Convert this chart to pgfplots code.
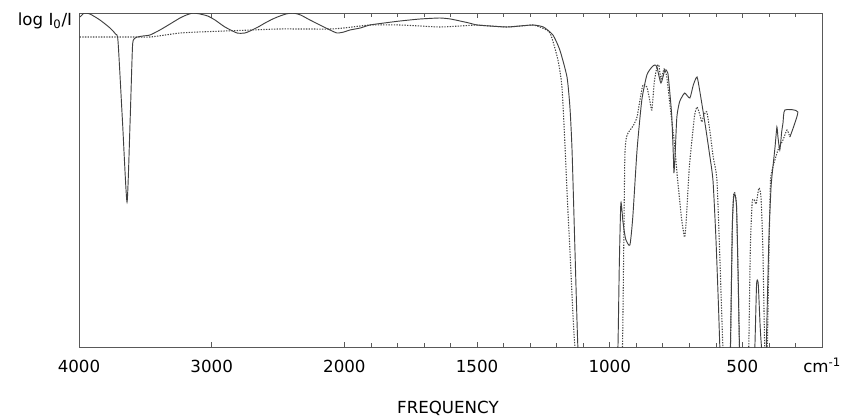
\documentclass[border=0pt]{standalone}
\usepackage{fontspec}
\setmainfont{DejaVu Sans}
\usepackage{pgfplots}
\pgfplotsset{compat=1.18}
\begin{document}
\begin{tikzpicture}
\useasboundingbox (-59.25pt,-51.5pt) rectangle (572.25pt,260.25pt);
\begin{axis}[
  scale only axis, width=557.25pt, height=250.5pt,
  at={(0,0)}, anchor=south west,
  x coord trafo/.code={\pgfmathparse{(#1>=2000)*(4000-#1)/2+(#1<2000)*(3000-#1)}},
  xmin=4000, xmax=200, ymin=0, ymax=334,
  xtick={4000,3000,2000,1500,1000,500},
  xticklabels={4000,3000,2000,1500,1000,500},
  minor xtick={1900,1800,1700,1600,1400,1300,1200,1100,900,800,700,600,400,300},
  ytick=\empty,
  axis line style={draw=black!65, line width=0.6pt},
  tick style={black!65, line width=0.5pt},
  major tick length=4pt, minor tick length=3pt,
  tick align=inside,
  xticklabel pos=lower,
  xticklabel style={font=\fontsize{12.5}{14}\selectfont, anchor=base, yshift=-18.75pt, inner sep=0pt},
  clip=true,
]
\addplot[black!75, line width=0.7pt, smooth, tension=0.35] coordinates {
(3992,330)(3960,334)(3917,333)(3842,327)(3766,319)(3725,313)(3706,306)
(3672,225)(3638,145)(3615,225)(3597,300)(3585,308)(3560,310)(3518,311)(3465,312)(3390,317)(3314,323)(3239,329)
(3190,332)(3141,334)(3088,333)(3030,331)(2975,327)(2900,320)(2809,314)(2750,314)(2711,316)(2650,320)(2598,324)
(2540,328)(2485,331)(2440,333)(2387,334)(2330,332)(2259,327)(2184,322)(2108,317)(2055,314)
(2003,315)(1979,317)(1940,319)(1904,322)(1850,324)(1790,326)(1715,328)(1640,329)(1600,328)(1564,326)(1530,324)(1500,322)
(1451,321)(1387,320)(1338,321)(1289,322)(1250,320)(1214,312)(1188,297)(1161,270)(1150,240)(1142,197)(1131,97)(1120,0)(1110,-20)
(975,-20)(969,0)(964,80)(958,144)(950,125)(940,108)(924,102)(913,130)(897,197)(879,247)(860,272)
(841,280)(830,282)(822,280)(807,264)(792,277)(781,274)(772,250)(766,230)(760,190)(758,174)(754,190)
(747,230)(737,245)(728,250)(717,254)(698,249)(685,262)(671,270)(660,255)(640,222)(625,195)(611,167)
(600,110)(590,40)(585,0)(580,-20)(550,-20)(545,0)(538,120)(533,150)(528,152)(522,140)(516,70)(511,0)(505,-20)
(458,-20)(453,0)(447,60)(444,67)(440,62)(433,20)(428,0)(420,-20)(412,-20)(410,0)(400,110)(392,160)
(385,180)(377,200)(370,220)(366,210)(359,197)(352,215)(347,224)(340,237)(291,235)(321,210)
};
\addplot[black!72, line width=0.8pt, dash pattern=on 1pt off 1pt, smooth, tension=0.35] coordinates {
(3995,310)(3800,310)(3600,310)(3465,310)(3350,312)(3239,314)(3100,315)(2900,316)(2700,317)(2500,318)(2300,318)(2108,318)
(2003,319)(1904,322)(1790,322)(1715,321)(1640,320)(1564,321)(1500,322)(1451,321)(1387,320)(1338,321)(1289,322)
(1263,320)(1225,314)(1195,287)(1180,260)(1169,204)(1160,150)(1150,97)(1131,0)(1100,-20)
(960,-20)(952,0)(948,80)(943,190)(937,210)(931,214)(910,222)(897,230)(886,247)(875,262)(860,260)
(848,245)(841,237)(832,265)(822,280)(815,282)(807,268)(795,278)(785,270)(770,235)(758,208)(745,170)
(730,130)(720,112)(717,110)(712,125)(700,180)(690,207)(680,232)(671,240)(660,232)(653,225)(645,232)
(634,235)(622,215)(610,190)(596,167)(585,90)(575,10)(573,0)(565,-20)(548,-20)(545,0)(538,120)(533,152)
(528,154)(522,140)(516,70)(511,0)(505,-20)(480,-20)(476,0)(470,100)(463,145)(455,147)(448,143)(438,159)
(430,150)(423,100)(416,0)(412,-20)(409,-20)(406,0)(398,120)(394,167)(385,180)(366,197)(347,207)(332,217)(321,210)
};
\end{axis}
\node[anchor=base east, inner sep=0pt, font=\fontsize{12.5}{14}\selectfont] at (-5pt,241.5pt) {log I\textsubscript{0}/I};
\node[anchor=base west, inner sep=0pt, font=\fontsize{12.5}{14}\selectfont] at (543pt,-18.75pt) {cm\textsuperscript{-1}};
\node[anchor=base, inner sep=0pt, font=\fontsize{12.5}{14}\selectfont] at (276.7pt,-49.5pt) {FREQUENCY};
\end{tikzpicture}
\end{document}
